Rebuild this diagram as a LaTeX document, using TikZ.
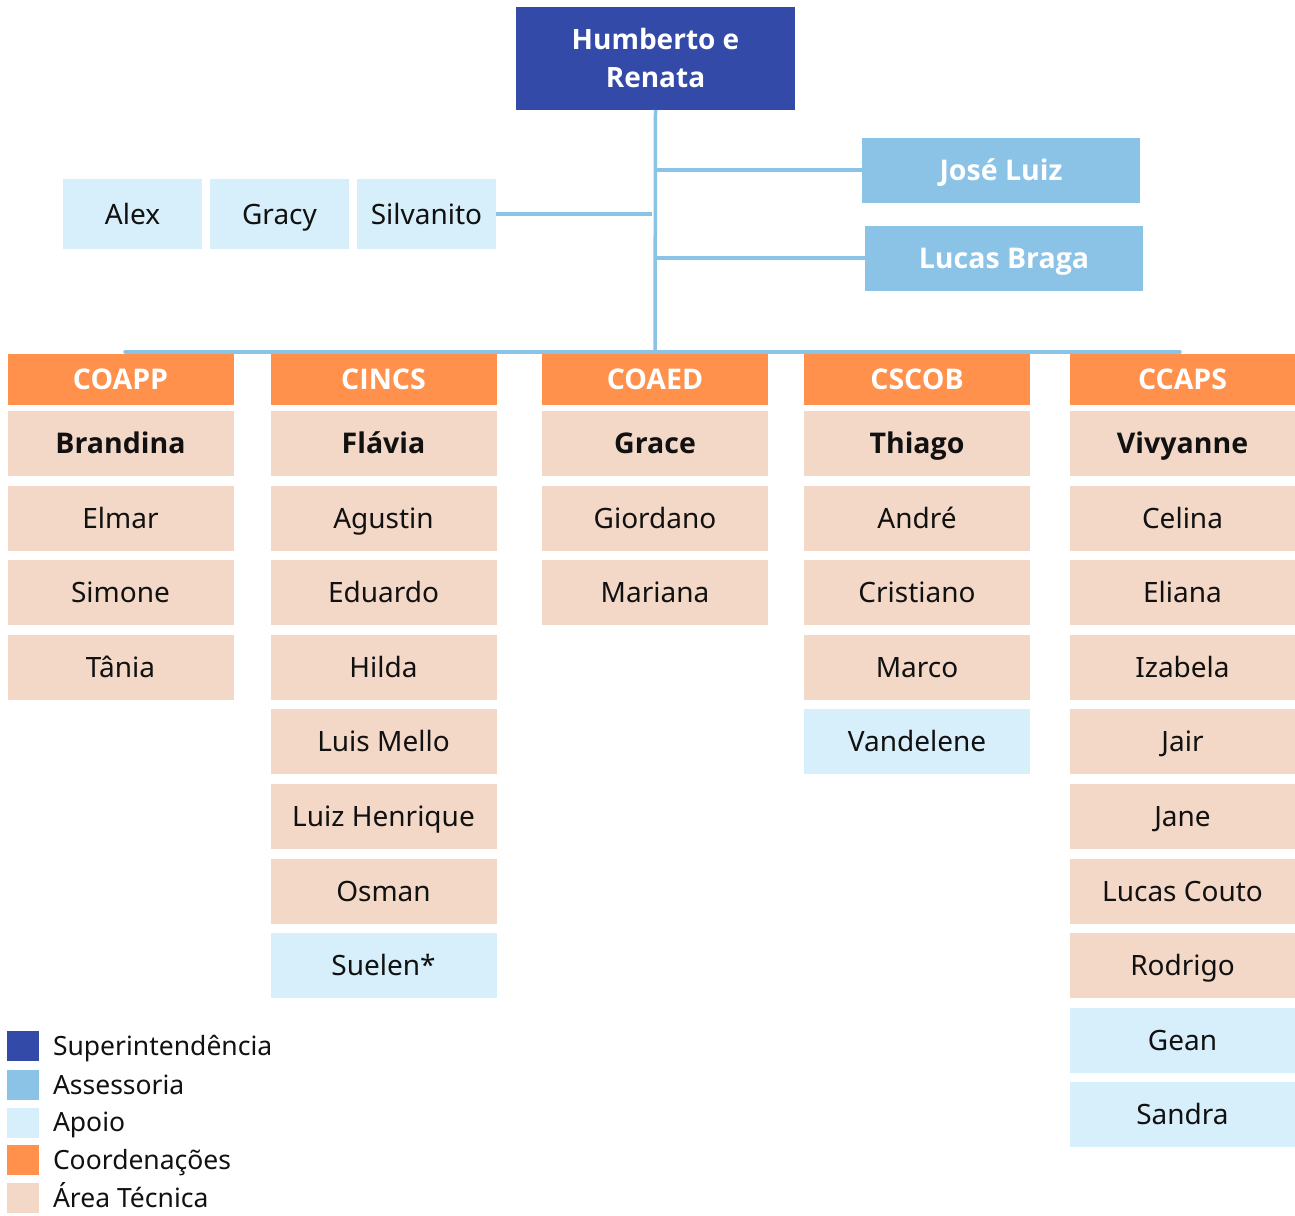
\documentclass[tikz,border=0pt]{standalone}
\usepackage{fontspec}
\setmainfont{Noto Sans}
\newfontfamily\bfam{Open Sans}
\definecolor{supc}{HTML}{334AA8}
\definecolor{assc}{HTML}{8BC3E6}
\definecolor{apoc}{HTML}{D7EEFB}
\definecolor{cooc}{HTML}{FF914D}
\definecolor{tecc}{HTML}{F3D8C7}
\definecolor{txt}{HTML}{111111}
\newcommand\memb[5]{\node[#1] (#2) at ({#3},{443.5+74.6*#4}) {#5};}
\begin{document}
\begin{tikzpicture}[x=1pt,y=-1pt,
  base/.style={inner sep=0pt, outer sep=0pt, text=txt, text height=20pt, text depth=0pt, font=\fontsize{28}{32}\selectfont},
  bbase/.style={base, font=\bfam\fontsize{28.5}{32}\selectfont\bfseries},
  tecbox/.style={base, fill=tecc, minimum width=226pt, minimum height=65pt},
  tecboss/.style={bbase, fill=tecc, minimum width=226pt, minimum height=65pt},
  apobox/.style={base, fill=apoc, minimum width=226pt, minimum height=65pt},
  coobox/.style={bbase, fill=cooc, text=white, minimum width=226pt, minimum height=51pt},
  assbox/.style={bbase, fill=assc, text=white, minimum width=278pt, minimum height=65pt},
  apotop/.style={base, fill=apoc, minimum width=139pt, minimum height=70pt},
  supbox/.style={inner sep=0pt, outer sep=0pt, fill=supc, text=white, font=\bfam\fontsize{28}{38}\selectfont\bfseries, minimum width=279pt, minimum height=103pt, align=center},
  link/.style={draw=assc, line width=3.5pt},
  legsq/.style={inner sep=0pt, minimum width=32pt, minimum height=30pt},
  legtx/.style={base, anchor=west, font=\fontsize{26.5}{32}\selectfont}]
\useasboundingbox (0,0) rectangle (1295,1215);

% top
\node[supbox] (sup) at (655.5,58.5) {Humberto e\\Renata};
\coordinate (barM) at (655,352);
\coordinate (barL) at (125,352);
\coordinate (barR) at (1180,352);
\coordinate (jL) at (655,170);
\coordinate (lL) at (655,258);
\coordinate (aR) at (652,214);
\draw[link] (sup.south) -- (barM);
\draw[link, line cap=round] (barL) -- (barR);

% assessoria
\node[assbox] (jose) at (1001,170) {José Luiz};
\node[assbox] (lucasb) at (1004,258) {Lucas Braga};
\draw[link] (jL) -- (jose.west);
\draw[link] (lL) -- (lucasb.west);

% apoio top
\node[apotop] (alex) at (132.5,214) {Alex};
\node[apotop] (gracy) at (279.5,214) {Gracy};
\node[apotop] (silv) at (426.5,214) {Silvanito};
\draw[link] (silv.east) -- (aR);

% headers
\node[coobox] (h1) at (120.5,379.5) {COAPP};
\node[coobox] (h2) at (383.5,379.5) {CINCS};
\node[coobox] (h3) at (655,379.5) {COAED};
\node[coobox] (h4) at (917,379.5) {CSCOB};
\node[coobox] (h5) at (1182.5,379.5) {CCAPS};

% COAPP
\memb{tecboss}{a0}{120.5}{0}{Brandina}
\memb{tecbox}{a1}{120.5}{1}{Elmar}
\memb{tecbox}{a2}{120.5}{2}{Simone}
\memb{tecbox}{a3}{120.5}{3}{Tânia}
% CINCS
\memb{tecboss}{b0}{383.5}{0}{Flávia}
\memb{tecbox}{b1}{383.5}{1}{Agustin}
\memb{tecbox}{b2}{383.5}{2}{Eduardo}
\memb{tecbox}{b3}{383.5}{3}{Hilda}
\memb{tecbox}{b4}{383.5}{4}{Luis Mello}
\memb{tecbox}{b5}{383.5}{5}{Luiz Henrique}
\memb{tecbox}{b6}{383.5}{6}{Osman}
\memb{apobox}{b7}{383.5}{7}{Suelen*}
% COAED
\memb{tecboss}{c0}{655}{0}{Grace}
\memb{tecbox}{c1}{655}{1}{Giordano}
\memb{tecbox}{c2}{655}{2}{Mariana}
% CSCOB
\memb{tecboss}{d0}{917}{0}{Thiago}
\memb{tecbox}{d1}{917}{1}{André}
\memb{tecbox}{d2}{917}{2}{Cristiano}
\memb{tecbox}{d3}{917}{3}{Marco}
\memb{apobox}{d4}{917}{4}{Vandelene}
% CCAPS
\memb{tecboss}{e0}{1182.5}{0}{Vivyanne}
\memb{tecbox}{e1}{1182.5}{1}{Celina}
\memb{tecbox}{e2}{1182.5}{2}{Eliana}
\memb{tecbox}{e3}{1182.5}{3}{Izabela}
\memb{tecbox}{e4}{1182.5}{4}{Jair}
\memb{tecbox}{e5}{1182.5}{5}{Jane}
\memb{tecbox}{e6}{1182.5}{6}{Lucas Couto}
\memb{tecbox}{e7}{1182.5}{7}{Rodrigo}
\memb{apobox}{e8}{1182.5}{8}{Gean}
\memb{apobox}{e9}{1182.5}{9}{Sandra}

% legend
\node[legsq, fill=supc] (l1) at (23,1046) {};
\node[legsq, fill=assc] (l2) at (23,1085) {};
\node[legsq, fill=apoc] (l3) at (23,1123) {};
\node[legsq, fill=cooc] (l4) at (23,1160) {};
\node[legsq, fill=tecc] (l5) at (23,1198) {};
\node[legtx] (t1) at (53,1045) {Superintendência};
\node[legtx] (t2) at (53,1084) {Assessoria};
\node[legtx] (t3) at (53,1121) {Apoio};
\node[legtx] (t4) at (53,1159) {Coordenações};
\node[legtx] (t5) at (53,1197) {Área Técnica};
\end{tikzpicture}
\end{document}
